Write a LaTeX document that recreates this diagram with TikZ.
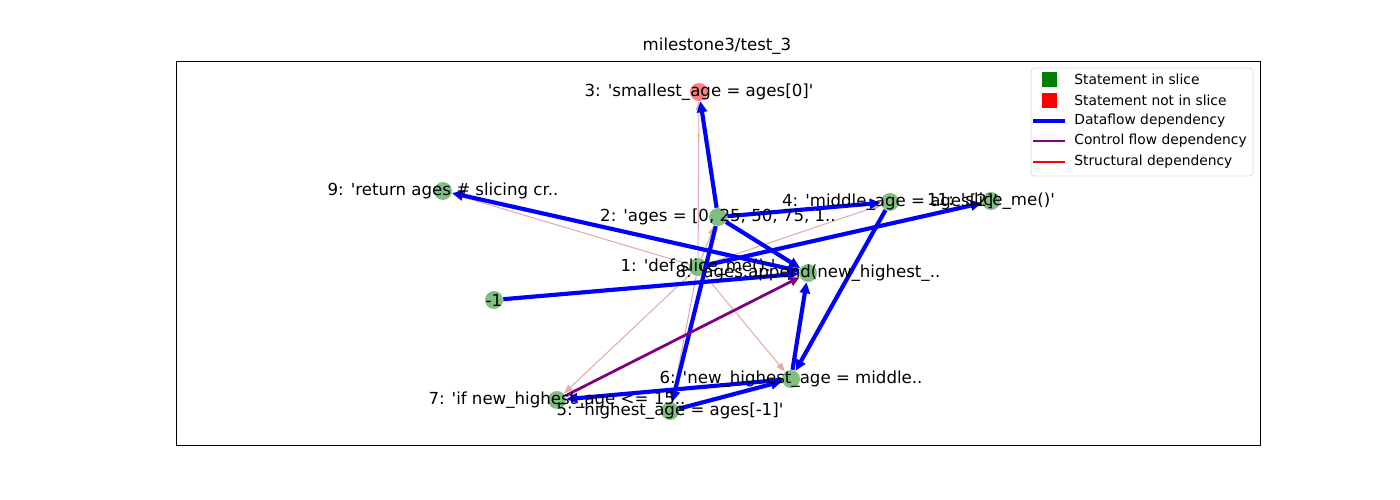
\documentclass[tikz,border=0pt]{standalone}
\usepackage{fontspec}
\setmainfont{DejaVu Sans}[Ligatures=TeXOff]
\usetikzlibrary{arrows.meta}

\definecolor{inslice}{RGB}{128,191,128}
\definecolor{outslice}{RGB}{255,128,128}
\definecolor{ctrlcol}{RGB}{128,0,128}
\definecolor{structcol}{RGB}{225,172,172}

\tikzset{
	stmt/.style={shape=circle, fill=inslice, minimum size=0.36cm, inner sep=0pt},
	nostmt/.style={shape=circle, fill=outslice, minimum size=0.36cm, inner sep=0pt},
	lbl/.style={inner sep=0pt, font=\fontsize{9.45}{11}\selectfont},
	legtext/.style={anchor=west, inner sep=0pt, font=\fontsize{7.87}{9.5}\selectfont},
	dflow/.style={draw=blue, line width=2.36pt, -{Triangle[length=0.22cm, width=0.2cm]}},
	cflow/.style={draw=ctrlcol, line width=1.57pt, -{Triangle[length=0.2cm, width=0.18cm]}},
	sflow/.style={draw=structcol, line width=0.6pt, -{Triangle[length=0.18cm, width=0.13cm, open, fill=structcol]}}
}

\begin{document}
\begin{tikzpicture}[x=0.02cm, y=-0.02cm]
			\useasboundingbox (0,0) rectangle (1400,500);
			\draw[line width=0.45pt] (176,61) rectangle (1260,445);
			\node[lbl] (title) at (717,46) {milestone3/test\_3};

			\node[stmt] (n1) at (698,267) {};
			\node[stmt] (n2) at (718,217) {};
			\node[nostmt] (n3) at (699,92) {};
			\node[stmt] (n4) at (890,202) {};
			\node[stmt] (n5) at (670,411) {};
			\node[stmt] (n6) at (791,379) {};
			\node[stmt] (n7) at (557,400) {};
			\node[stmt] (n8) at (808,273) {};
			\node[stmt] (n9) at (443,191) {};
			\node[stmt] (n11) at (991,201) {};
			\node[stmt] (nm) at (494,300) {};

			% structural
			\path [sflow] (n1) edge (n2);
			\path [sflow] (n1) edge (n3);
			\path [sflow] (n1) edge (n4);
			\path [sflow] (n1) edge (n5);
			\path [sflow] (n1) edge (n6);
			\path [sflow] (n1) edge (n7);
			\path [sflow] (n1) edge (n9);

			% dataflow
			\path [dflow] (n2) edge (n3);
			\path [dflow] (n2) edge (n4);
			\path [dflow] (n2) edge (n8);
			\path [dflow] (n2) edge (n5);
			\path [dflow] (n8) edge (n9);
			\path [dflow] (nm) edge (n8);
			\path [dflow] (n1) edge (n11);
			\path [dflow] (n4) edge (n6);
			\path [dflow] (n6) edge (n8);
			\path [dflow] (n6) edge (n7);
			\path [dflow] (n5) edge (n6);

			% control flow
			\path [cflow] (n7) edge (n8);

			\node[lbl] (t1) at (n1) {1: 'def slice\_me():'};
			\node[lbl] (t2) at (n2) {2: 'ages = [0, 25, 50, 75, 1..};
			\node[lbl] (t3) at (n3) {3: 'smallest\_age = ages[0]'};
			\node[lbl] (t4) at (n4) {4: 'middle\_age = ages[2]'};
			\node[lbl] (t5) at (n5) {5: 'highest\_age = ages[-1]'};
			\node[lbl] (t6) at (n6) {6: 'new\_highest\_age = middle..};
			\node[lbl] (t7) at (n7) {7: 'if new\_highest\_age <= 15..};
			\node[lbl] (t8) at (n8) {8: 'ages.append(new\_highest\_..};
			\node[lbl] (t9) at (n9) {9: 'return ages \# slicing cr..};
			\node[lbl] (t11) at (n11) {11: 'slice\_me()'};
			\node[lbl] (tm) at (nm) {-1};

			% legend
			\draw[draw=black!15, fill=white, rounded corners=2pt] (1031,68) rectangle (1253,176);
			\fill[green!50!black] (1042,72) rectangle (1057,87);
			\fill[red] (1042,93) rectangle (1057,108);
			\coordinate (db) at (1033,121);
			\coordinate (de) at (1065,121);
			\coordinate (cb) at (1033,141);
			\coordinate (ce) at (1065,141);
			\coordinate (sb) at (1033,162);
			\coordinate (se) at (1065,162);
			\draw[blue, line width=2.36pt] (db) -- (de);
			\draw[ctrlcol, line width=1.57pt] (cb) -- (ce);
			\draw[red, line width=0.6pt] (sb) -- (se);
			\node[legtext] (lg1) at (1074,79) {Statement in slice};
			\node[legtext] (lg2) at (1074,100) {Statement not in slice};
			\node[legtext] (lg3) at (1074,121) {Dataflow dependency};
			\node[legtext] (lg4) at (1074,141) {Control flow dependency};
			\node[legtext] (lg5) at (1074,162) {Structural dependency};
		\end{tikzpicture}
\end{document}
